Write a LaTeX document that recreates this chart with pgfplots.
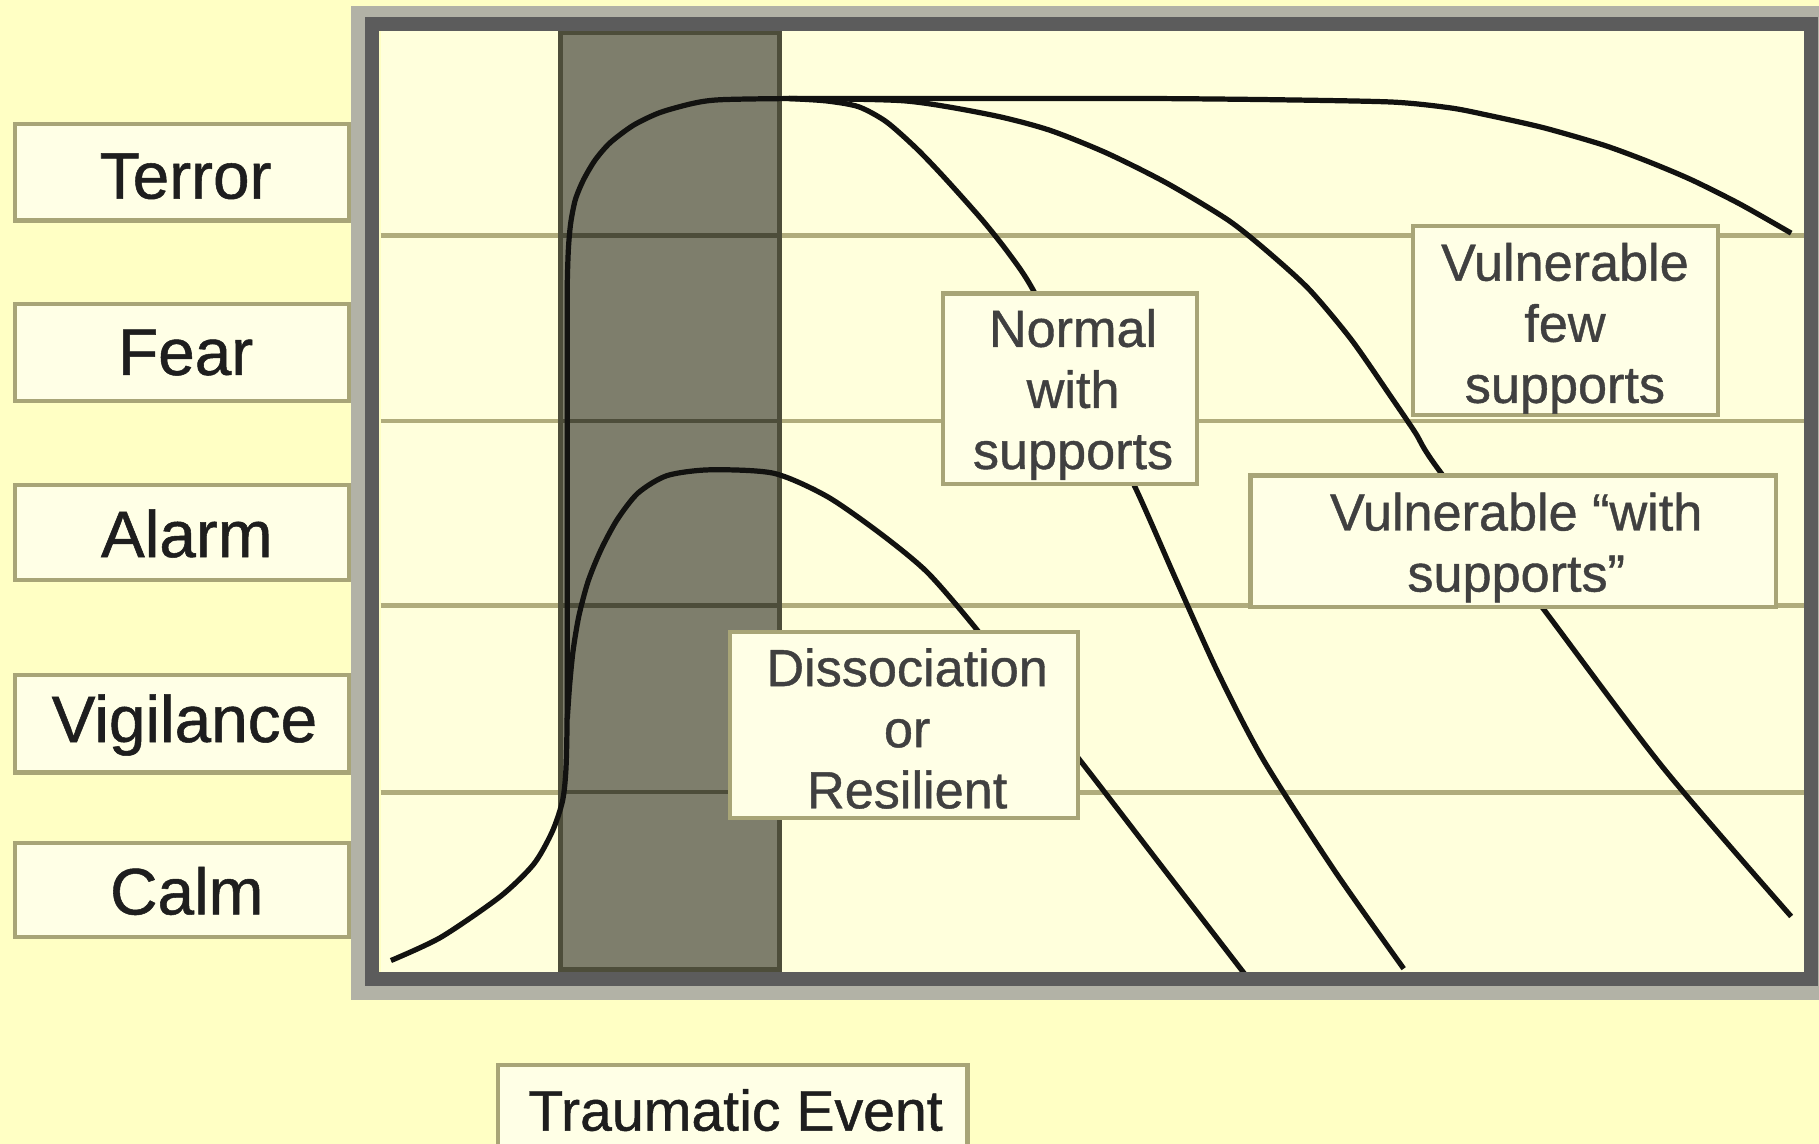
\documentclass[border=0pt]{standalone}
\usepackage{fontspec}
\setmainfont{Liberation Sans}
\newfontfamily\lblfont[FakeBold=0.8]{Liberation Sans}
\usepackage{pgfplots}
\pgfplotsset{compat=1.18}
\definecolor{pagebg}{HTML}{FFFFC4}
\definecolor{innerbg}{HTML}{FFFFDC}
\definecolor{boxfill}{HTML}{FFFFE6}
\definecolor{boxline}{HTML}{A8A577}
\definecolor{gridc}{HTML}{B0AC7C}
\definecolor{bandc}{HTML}{7E7E6C}
\definecolor{bandedge}{HTML}{4D4D3A}
\definecolor{framedark}{HTML}{5C5C5C}
\definecolor{framelight}{HTML}{B2B2A6}
\definecolor{curvec}{HTML}{121210}
\definecolor{txt}{HTML}{1E1E1E}
\tikzset{
  lvbox/.style={draw=boxline, fill=boxfill, line width=1.1pt},
  lvtext/.style={text=txt, font=\lblfont\fontsize{17}{20}\selectfont},
  intext/.style={text=txt!85, align=center, font=\lblfont\fontsize{13.5}{15.8}\selectfont},
  crv/.style={curvec, line width=1.35pt, smooth, tension=0.45, no markers, line join=round},
}
\begin{document}
\begin{tikzpicture}
\fill[pagebg] (-98.4pt,-44.4pt) rectangle (372pt,251.4pt);
\begin{axis}[
  at={(0pt,0pt)}, anchor=south west,
  scale only axis, width=368.1pt, height=243.6pt,
  xmin=328, xmax=1555, ymin=148, ymax=960,
  clip=false,
  axis line style={draw=none},
  axis background/.style={fill=innerbg},
  xtick=\empty,
  ytick={303,464,623,783}, yticklabels={},
  major tick length=0pt,
  ymajorgrids, grid style={gridc, line width=1.2pt},
]
% traumatic event band
\addplot[fill=bandc, draw=bandedge, line width=1.3pt] coordinates {(483,150) (483,958) (672,958) (672,150)} -- cycle;
\addplot[bandedge, line width=1.1pt] coordinates {(483,303) (672,303)};
\addplot[bandedge, line width=1.1pt] coordinates {(483,464) (672,464)};
\addplot[bandedge, line width=1.1pt] coordinates {(483,623) (672,623)};
\addplot[bandedge, line width=1.1pt] coordinates {(483,783) (672,783)};

% main rise + vulnerable few supports
\addplot[crv] coordinates {
 (337,158) (380,178) (431,213) (460,241) (476,269) (485,296) (488,326)
 (489,386) (489,536) (489,686) (489,740) (490,772) (492,794) (496,814)
 (503,831) (513,848) (526,863) (546,878) (569,889) (598,897) (621,900)
 (680,901) (800,901) (900,901) (1000,901) (1100,900) (1200,898)
 (1250,893) (1281,887) (1330,876) (1382,861) (1420,847) (1458,831)
 (1500,810) (1544,785)};
% normal with supports
\addplot[crv] coordinates {
 (680,901) (712,899) (740,894) (764,881) (790,858) (814,833) (847,796)
 (870,767) (890,737) (935,651) (978,567) (1013,488) (1050,406)
 (1089,331) (1150,236) (1210,151)};
% vulnerable with supports
\addplot[crv] coordinates {
 (680,901) (780,899) (854,887) (904,874) (954,854) (1006,828) (1059,796)
 (1094,768) (1129,736) (1165,693) (1199,644) (1220,613) (1238,584)
 (1329,463) (1433,325) (1544,196)};
% dissociation / resilient
\addplot[crv] coordinates {
 (489,366) (491,395) (494,425) (499,455) (507,485) (518,512) (532,538)
 (550,561) (575,576) (612,581) (667,578) (713,558) (759,526) (799,493)
 (839,447) (886,387) (933,328) (1000,241) (1074,145)};

% frame
\draw[framelight, line width=5.4pt] (axis cs:312,972) rectangle (axis cs:1566,133);
\draw[framedark, line width=3.6pt] (axis cs:321,965) rectangle (axis cs:1561,142);

% boxes in the chart
\draw[lvbox] (axis cs:813,733) rectangle (axis cs:1032,569);
\node[intext] at (axis cs:925,646) {Normal\\with\\supports};
\draw[lvbox] (axis cs:1218,791) rectangle (axis cs:1481,628);
\node[intext] at (axis cs:1349,703) {Vulnerable\\few\\supports};
\draw[lvbox] (axis cs:1078,576) rectangle (axis cs:1531,463);
\node[intext] at (axis cs:1307,514) {Vulnerable “with\\supports”};
\draw[lvbox] (axis cs:629,441) rectangle (axis cs:929,281);
\node[intext] at (axis cs:782,358) {Dissociation\\or\\Resilient};

% level boxes
\draw[lvbox] (axis cs:13,879) rectangle (axis cs:301,796);
\node[lvtext] at (axis cs:160,834) {Terror};
\draw[lvbox] (axis cs:13,724) rectangle (axis cs:301,640);
\node[lvtext] at (axis cs:160,682) {Fear};
\draw[lvbox] (axis cs:13,568) rectangle (axis cs:301,486);
\node[lvtext] at (axis cs:161,526) {Alarm};
\draw[lvbox] (axis cs:13,404) rectangle (axis cs:301,320);
\node[lvtext] at (axis cs:159,361) {Vigilance};
\draw[lvbox] (axis cs:13,259) rectangle (axis cs:301,178);
\node[lvtext] at (axis cs:161,218) {Calm};

% traumatic event
\draw[lvbox] (axis cs:429,68) rectangle (axis cs:834,-20);
\node[text=txt, font=\lblfont\fontsize{14.8}{17}\selectfont] at (axis cs:634,29) {Traumatic Event};
\end{axis}
\pgfresetboundingbox
\useasboundingbox (-98.4pt,-44.4pt) rectangle (372pt,251.4pt);
\end{tikzpicture}
\end{document}
